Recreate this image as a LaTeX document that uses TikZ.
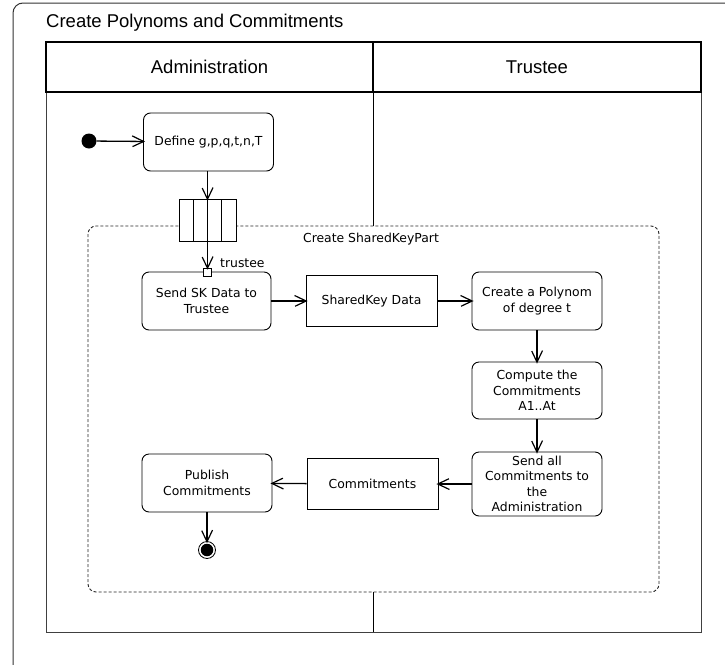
\documentclass[tikz,border=0pt]{standalone}
\usepackage{fontspec}
\setmainfont{DejaVu Sans}
\newfontfamily\headfont{Liberation Sans}
\usetikzlibrary{decorations.markings}

\begin{document}
\begin{tikzpicture}[x=1pt,y=-1pt,
  nodefont/.style={font=\fontsize{12.4}{15.5}\selectfont},
  action/.style={draw,rounded corners=7pt,line width=0.9pt,align=center,inner sep=0pt,nodefont},
  objbox/.style={draw,line width=0.9pt,align=center,inner sep=0pt,nodefont},
  flow/.style={line width=1.3pt,shorten >=0.6pt,
    postaction={decorate},
    decoration={markings,mark=at position 1 with {
      \draw[line width=1.2pt,line join=miter] (-11pt,5.5pt) -- (0.6pt,0pt) -- (-11pt,-5.5pt);}}},
  lane/.style={line width=1pt,draw=black!75},
]
\useasboundingbox (0,0) rectangle (725,664);

% outer activity frame
\begin{scope}
  \clip (0,0) rectangle (725,664);
  \draw[line width=1pt,draw=black!80,rounded corners=10pt] (13,3) rectangle (740,675);
\end{scope}
\node[anchor=west,inner sep=0pt,font=\headfont\fontsize{18.5}{20}\selectfont] (title) at (46,22.5) {Create Polynoms and Commitments};

% swimlanes
\draw[lane] (46,92) rectangle (701,632);
\draw[line width=1.2pt] (46,42) rectangle (701,92);
\draw[line width=1.2pt] (373,42) -- (373,92);
\draw[line width=0.9pt] (373,92) -- (373,226);
\draw[line width=0.9pt] (373,592) -- (373,632);
\node[font=\headfont\fontsize{18.5}{20}\selectfont] (laneA) at (209.5,67) {Administration};
\node[font=\headfont\fontsize{18.5}{20}\selectfont] (laneT) at (537,67) {Trustee};

% expansion region
\draw[line width=0.9pt,draw=black!85,dash pattern=on 3pt off 2pt,rounded corners=8pt] (88,226) rectangle (659,592);
\node[nodefont] (region) at (371,239) {Create SharedKeyPart};

% nodes
\node[circle,fill=black,inner sep=0pt,minimum size=15pt] (start) at (89,141) {};
\node[action,minimum width=130pt,minimum height=58pt] (define) at (208.5,142) {Define g,p,q,t,n,T};
\node[draw,fill=white,line width=0.9pt,inner sep=0pt,minimum width=57pt,minimum height=42pt] (box) at (207.5,220) {};
\draw[line width=0.9pt] (193.25,199) -- (193.25,241) (207.5,199) -- (207.5,241) (221.75,199) -- (221.75,241);
\node[action,minimum width=129pt,minimum height=58pt] (sendsk) at (206.5,301) {Send SK Data to\\Trustee};
\node[draw,fill=white,line width=0.9pt,inner sep=0pt,minimum size=8pt] (pin) at (207.5,272) {};
\node[anchor=west,nodefont,inner sep=0pt] (pinlabel) at (220,263) {trustee};
\node[objbox,minimum width=131pt,minimum height=51pt] (skdata) at (371.5,301) {SharedKey Data};
\node[action,minimum width=130pt,minimum height=58pt] (poly) at (537,301) {Create a Polynom\\of degree t};
\node[action,minimum width=130pt,minimum height=57pt] (compute) at (537,390.5) {Compute the\\Commitments\\A1..At};
\node[action,minimum width=130pt,minimum height=64pt] (sendall) at (537,484) {Send all\\Commitments to\\the\\Administration};
\node[objbox,minimum width=131pt,minimum height=51pt] (commit) at (372.5,484) {Commitments};
\node[action,minimum width=130pt,minimum height=58pt] (publish) at (207,483) {Publish\\Commitments};
\node[circle,draw,line width=0.8pt,fill=white,inner sep=0pt,minimum size=17pt] (final) at (207,550) {};
\node[circle,fill=black,inner sep=0pt,minimum size=12.5pt] (finaldot) at (final) {};

% flows
\draw[flow] (start) -- (define);
\draw[flow] (define.south -| box.north) -- (box.north);
\draw[flow] (box.north) -- (pin.north);
\draw[flow] (sendsk) -- (skdata);
\draw[flow] (skdata) -- (poly);
\draw[flow] (poly) -- (compute);
\draw[flow] (compute) -- (sendall);
\draw[flow] (sendall) -- (commit);
\draw[flow] (commit) -- (publish);
\draw[flow] (publish) -- (final);
\end{tikzpicture}
\end{document}
